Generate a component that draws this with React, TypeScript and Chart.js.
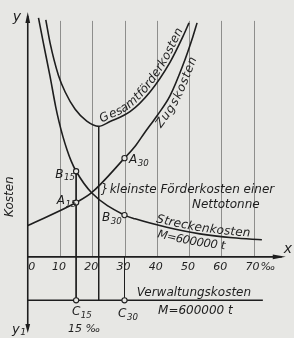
import React, { useEffect, useRef } from "react";
import { Chart, registerables } from "chart.js";

Chart.register(...registerables);

// ---- data (x in ‰ gradient, y in arbitrary cost units) ----
const gesamtX = [5.6, 6.9, 9.5, 11.6, 14.7, 18.3, 22.0, 25.5, 31.7, 37.9, 44.1, 48.1, 50.0];
const gesamtY = [24.0, 21.7, 18.4, 16.7, 14.95, 13.75, 13.22, 13.7, 14.7, 16.7, 19.7, 22.3, 23.7];

const zugX = [0, 15.0, 19.8, 30.0, 33.3, 36.4, 40.1, 44.1, 48.1, 51.2, 52.5];
const zugY = [3.17, 5.5, 6.5, 10.0, 11.2, 12.65, 14.3, 16.3, 19.4, 22.3, 23.7];

const streckeX = [3.33, 4.82, 6.9, 8.67, 9.69, 10.93, 12.17, 13.41, 15.0, 19.8, 30.0, 33.3, 43.1, 53.4, 63.6, 72.6];
const streckeY = [24.2, 21.7, 18.3, 15.2, 13.7, 12.15, 10.85, 9.75, 8.67, 6.5, 4.23, 3.85, 3.0, 2.33, 1.93, 1.73];

const verwaltungY = -4.4;
const verwaltungEndX = 72.9;

const optimumX = 22.0;
const optimumY = 13.22;

const markerNames = ["A", "B", "A", "B", "C", "C"];
const markerSubs = ["15", "15", "30", "30", "15", "30"];
const markerX = [15, 15, 30, 30, 15, 30];
const markerY = [5.5, 8.67, 10.0, 4.23, -4.4, -4.4];

const gridValues = [10, 20, 30, 40, 50, 60, 70];
const tickValues = [0, 10, 20, 30, 40, 50, 60, 70];
const tickLabels = ["0", "10", "20", "30", "40", "50", "60", "70"];

const INK = "#1e1e1e";
const PAPER = "#e7e7e4";
const FAM = "'DejaVu Sans', sans-serif";

type P = { x: number; y: number };

function sampleCurve(meta: any): P[] {
  const els = meta.data as any[];
  const out: P[] = [];
  for (let i = 0; i < els.length - 1; i++) {
    const a = els[i], b = els[i + 1];
    const c1x = a.cp2x ?? a.x, c1y = a.cp2y ?? a.y;
    const c2x = b.cp1x ?? b.x, c2y = b.cp1y ?? b.y;
    for (let k = 0; k < 24; k++) {
      const t = k / 24, u = 1 - t;
      out.push({
        x: u * u * u * a.x + 3 * u * u * t * c1x + 3 * u * t * t * c2x + t * t * t * b.x,
        y: u * u * u * a.y + 3 * u * u * t * c1y + 3 * u * t * t * c2y + t * t * t * b.y,
      });
    }
  }
  const l = els[els.length - 1];
  out.push({ x: l.x, y: l.y });
  return out;
}

function textAlong(ctx: CanvasRenderingContext2D, s: P[], text: string, px0: number, px1: number, offset: number, font: string) {
  const cum = [0];
  for (let i = 1; i < s.length; i++) cum.push(cum[i - 1] + Math.hypot(s[i].x - s[i - 1].x, s[i].y - s[i - 1].y));
  const total = cum[cum.length - 1];
  const arcAtX = (px: number) => {
    for (let i = 0; i < s.length - 1; i++) {
      if ((s[i].x - px) * (s[i + 1].x - px) <= 0) {
        const d = s[i + 1].x - s[i].x;
        const f = d === 0 ? 0 : (px - s[i].x) / d;
        return cum[i] + f * (cum[i + 1] - cum[i]);
      }
    }
    return px < s[0].x ? 0 : total;
  };
  const pointAt = (a: number): P => {
    a = Math.max(0, Math.min(total, a));
    for (let i = 0; i < s.length - 1; i++) {
      if (a <= cum[i + 1]) {
        const seg = cum[i + 1] - cum[i];
        const f = seg === 0 ? 0 : (a - cum[i]) / seg;
        return { x: s[i].x + f * (s[i + 1].x - s[i].x), y: s[i].y + f * (s[i + 1].y - s[i].y) };
      }
    }
    return s[s.length - 1];
  };
  ctx.save();
  ctx.font = font;
  ctx.fillStyle = INK;
  ctx.textAlign = "center";
  ctx.textBaseline = "alphabetic";
  const chars = Array.from(text);
  const widths = chars.map((c) => ctx.measureText(c).width);
  const tw = widths.reduce((a, b) => a + b, 0);
  const s0 = arcAtX(px0), s1 = arcAtX(px1);
  const k = (s1 - s0) / tw;
  let acc = 0;
  chars.forEach((c, i) => {
    const a = s0 + (acc + widths[i] / 2) * k;
    acc += widths[i];
    const p = pointAt(a);
    const pa = pointAt(a - 3), pb = pointAt(a + 3);
    const ang = Math.atan2(pb.y - pa.y, pb.x - pa.x);
    const nx = Math.sin(ang), ny = -Math.cos(ang);
    ctx.save();
    ctx.translate(p.x + nx * offset, p.y + ny * offset);
    ctx.rotate(ang);
    ctx.fillText(c, 0, 0);
    ctx.restore();
  });
  ctx.restore();
}

const paperPlugin = {
  id: "paper",
  beforeDraw(chart: any) {
    const ctx = chart.ctx as CanvasRenderingContext2D;
    ctx.save();
    ctx.fillStyle = PAPER;
    ctx.fillRect(0, 0, chart.width, chart.height);
    ctx.restore();
  },
  beforeDatasetsDraw(chart: any) {
    const ctx = chart.ctx as CanvasRenderingContext2D;
    const xs = chart.scales.x, ys = chart.scales.y;
    const X = (v: number) => xs.getPixelForValue(v);
    const Y = (v: number) => ys.getPixelForValue(v);
    ctx.save();
    // grid
    ctx.strokeStyle = "#8e8e8c";
    ctx.lineWidth = 1;
    gridValues.forEach((g) => {
      ctx.beginPath();
      ctx.moveTo(Math.round(X(g)) + 0.5, Y(23.9));
      ctx.lineTo(Math.round(X(g)) + 0.5, Y(0));
      ctx.stroke();
    });
    // axes
    ctx.strokeStyle = INK;
    ctx.fillStyle = INK;
    ctx.lineWidth = 1.6;
    const x0 = X(0);
    ctx.beginPath();
    ctx.moveTo(x0, ys.top + 4);
    ctx.lineTo(x0, ys.bottom - 4);
    ctx.stroke();
    ctx.beginPath();
    ctx.moveTo(x0, Y(0));
    ctx.lineTo(xs.right - 4, Y(0));
    ctx.stroke();
    // arrows
    const tri = (ax: number, ay: number, bx: number, by: number, cx: number, cy: number) => {
      ctx.beginPath();
      ctx.moveTo(ax, ay);
      ctx.lineTo(bx, by);
      ctx.lineTo(cx, cy);
      ctx.closePath();
      ctx.fill();
    };
    tri(x0, ys.top, x0 - 2.4, ys.top + 11, x0 + 2.4, ys.top + 11);
    tri(x0, ys.bottom, x0 - 2.4, ys.bottom - 9, x0 + 2.4, ys.bottom - 9);
    tri(xs.right, Y(0), xs.right - 13, Y(0) - 2.4, xs.right - 13, Y(0) + 2.4);
    ctx.restore();
  },
  afterDatasetsDraw(chart: any) {
    const ctx = chart.ctx as CanvasRenderingContext2D;
    const xs = chart.scales.x, ys = chart.scales.y;
    const X = (v: number) => xs.getPixelForValue(v);
    const Y = (v: number) => ys.getPixelForValue(v);
    const f = (size: number) => `italic ${size}px ${FAM}`;
    ctx.save();
    ctx.fillStyle = INK;
    ctx.textBaseline = "middle";

    const put = (t: string, x: number, y: number, size: number, align: CanvasTextAlign = "left") => {
      ctx.font = f(size);
      ctx.textAlign = align;
      ctx.fillText(t, X(x), Y(y));
    };
    const putSub = (main: string, sub: string, x: number, y: number, size = 12) => {
      ctx.font = f(size);
      ctx.textAlign = "left";
      const w = ctx.measureText(main).width;
      ctx.fillText(main, X(x), Y(y));
      ctx.font = f(size * 0.72);
      ctx.fillText(sub, X(x) + w + 0.5, Y(y) + 3.5);
    };

    // tick labels
    tickValues.forEach((v, i) => {
      ctx.font = f(11);
      ctx.textAlign = "center";
      const cx = i === 0 ? X(v) + 4 : X(v) - 1;
      ctx.fillText(tickLabels[i], cx, Y(-1.0));
      if (i === tickValues.length - 1) {
        const w = ctx.measureText(tickLabels[i]).width;
        ctx.textAlign = "left";
        ctx.fillText("‰", cx + w / 2 + 1, Y(-1.0));
      }
    });

    // axis names
    put("y", -3.4, 24.3, 14, "center");
    put("x", 80.7, 0.8, 14, "center");
    putSub("y", "1", -4.9, -7.35, 13);
    ctx.save();
    ctx.font = f(12);
    ctx.textAlign = "center";
    ctx.translate(X(-5.5), Y(6.1));
    ctx.rotate(-Math.PI / 2);
    ctx.fillText("Kosten", 0, 0);
    ctx.restore();

    // point names
    const namePos: [number, number][] = [
      [9.0, 5.65], [8.5, 8.35], [31.4, 9.8], [23.0, 3.9], [13.7, -5.6], [28.0, -5.8],
    ];
    markerNames.forEach((n, i) => putSub(n, markerSubs[i], namePos[i][0], namePos[i][1], 12));
    put("15 ‰", 12.5, -7.35, 11);

    // optimum note
    put("}", 22.6, 6.8, 12);
    put("kleinste Förderkosten einer", 25.4, 6.8, 12);
    put("Nettotonne", 50.9, 5.3, 12);

    // administration costs
    put("Verwaltungskosten", 33.8, -3.6, 12);
    put("M=600000 t", 40.4, -5.5, 12);

    // labels along curves
    const gS = sampleCurve(chart.getDatasetMeta(1));
    const zS = sampleCurve(chart.getDatasetMeta(2));
    const sS = sampleCurve(chart.getDatasetMeta(3));
    textAlong(ctx, gS, "Gesamtförderkosten", X(23.3), X(48.9), 2.8, f(12));
    textAlong(ctx, zS, "Zugskosten", X(38.6), X(49.3), -10.5, f(12));
    textAlong(ctx, sS, "Streckenkosten", X(39.5), X(68.9), 2.6, f(12));
    textAlong(ctx, sS, "M=600000 t", X(41.0), X(61.5), -12, f(11.5));
    ctx.restore();
  },
};

export default function App() {
  const ref = useRef<HTMLCanvasElement>(null);
  useEffect(() => {
    const canvas = ref.current!;
    const pts = (xs: number[], ys: number[]) => xs.map((x, i) => ({ x, y: ys[i] }));
    const curve = {
      borderColor: INK,
      borderWidth: 1.6,
      pointRadius: 0,
      cubicInterpolationMode: "monotone" as const,
      fill: false,
    };
    const rule = { borderColor: INK, borderWidth: 1, pointRadius: 0, tension: 0, fill: false };
    const chart = new Chart(canvas, {
      type: "line",
      data: {
        datasets: [
          {
            label: "Punkte",
            data: pts(markerX, markerY),
            showLine: false,
            pointRadius: 2.6,
            pointBackgroundColor: PAPER,
            pointBorderColor: INK,
            pointBorderWidth: 1.1,
          } as any,
          { label: "Gesamtförderkosten", data: pts(gesamtX, gesamtY), ...curve },
          { label: "Zugskosten", data: pts(zugX, zugY), ...curve },
          { label: "Streckenkosten", data: pts(streckeX, streckeY), ...curve },
          {
            label: "Verwaltungskosten",
            data: [{ x: 0, y: verwaltungY }, { x: verwaltungEndX, y: verwaltungY }],
            borderColor: INK, borderWidth: 1.6, pointRadius: 0, tension: 0, fill: false,
          },
          { label: "l15", data: [{ x: 15, y: markerY[1] }, { x: 15, y: verwaltungY }], ...rule },
          { label: "lopt", data: [{ x: optimumX, y: optimumY }, { x: optimumX, y: verwaltungY }], ...rule },
          { label: "l30", data: [{ x: 30, y: 0 }, { x: 30, y: verwaltungY }], ...rule },
        ],
      },
      options: {
        animation: false,
        responsive: false,
        events: [],
        layout: { padding: { left: 27.75, right: 8.25, top: 12, bottom: 1 } },
        scales: {
          x: { type: "linear", min: 0, max: 80, display: false },
          y: { type: "linear", min: -7.7, max: 24.8, display: false },
        },
        plugins: { legend: { display: false }, tooltip: { enabled: false } },
      },
      plugins: [paperPlugin],
    });
    return () => chart.destroy();
  }, []);
  return (
    <div style={{ position: "absolute", left: 0, top: 0, width: 294, height: 338, background: PAPER }}>
      <canvas ref={ref} width={294} height={338} style={{ display: "block" }} />
    </div>
  );
}
